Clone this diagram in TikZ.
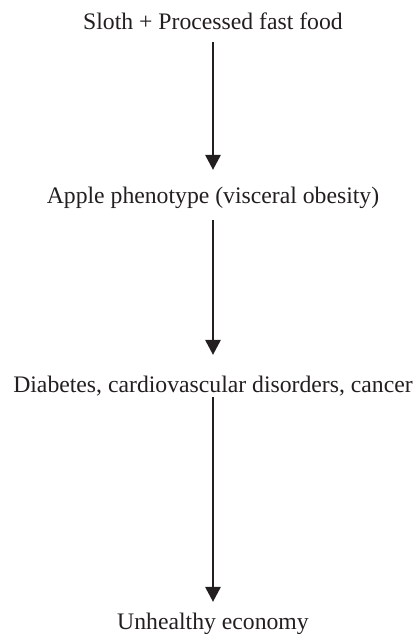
\documentclass[tikz,border=0pt]{standalone}
\usepackage{fontspec}
\setmainfont{Liberation Serif}
\usetikzlibrary{arrows.meta}
\definecolor{ink}{HTML}{231F20}
\begin{document}
\begin{tikzpicture}[x=1pt,y=-1pt,
  lbl/.style={inner sep=0pt, text height=16pt, text depth=5pt, anchor=base, font=\fontsize{23.7}{28}\selectfont, text=ink},
  arr/.style={draw=ink, line width=1.7pt, -{Triangle[width=15.5pt,length=15pt]}}]
\useasboundingbox (0,0) rectangle (417,634);
\node[lbl] (a) at (213,30) {Sloth + Processed fast food};
\node[lbl] (b) at (213,203) {Apple phenotype (visceral obesity)};
\node[lbl] (c) at (213,392) {Diabetes, cardiovascular disorders, cancer};
\node[lbl] (d) at (213,629) {Unhealthy economy};
\draw[arr, shorten <=7pt, shorten >=17pt] (a) -- (b);
\draw[arr, shorten <=12pt, shorten >=21pt] (b) -- (c);
\draw[arr, shorten <=0pt, shorten >=11pt] (c) -- (d);
\end{tikzpicture}
\end{document}
